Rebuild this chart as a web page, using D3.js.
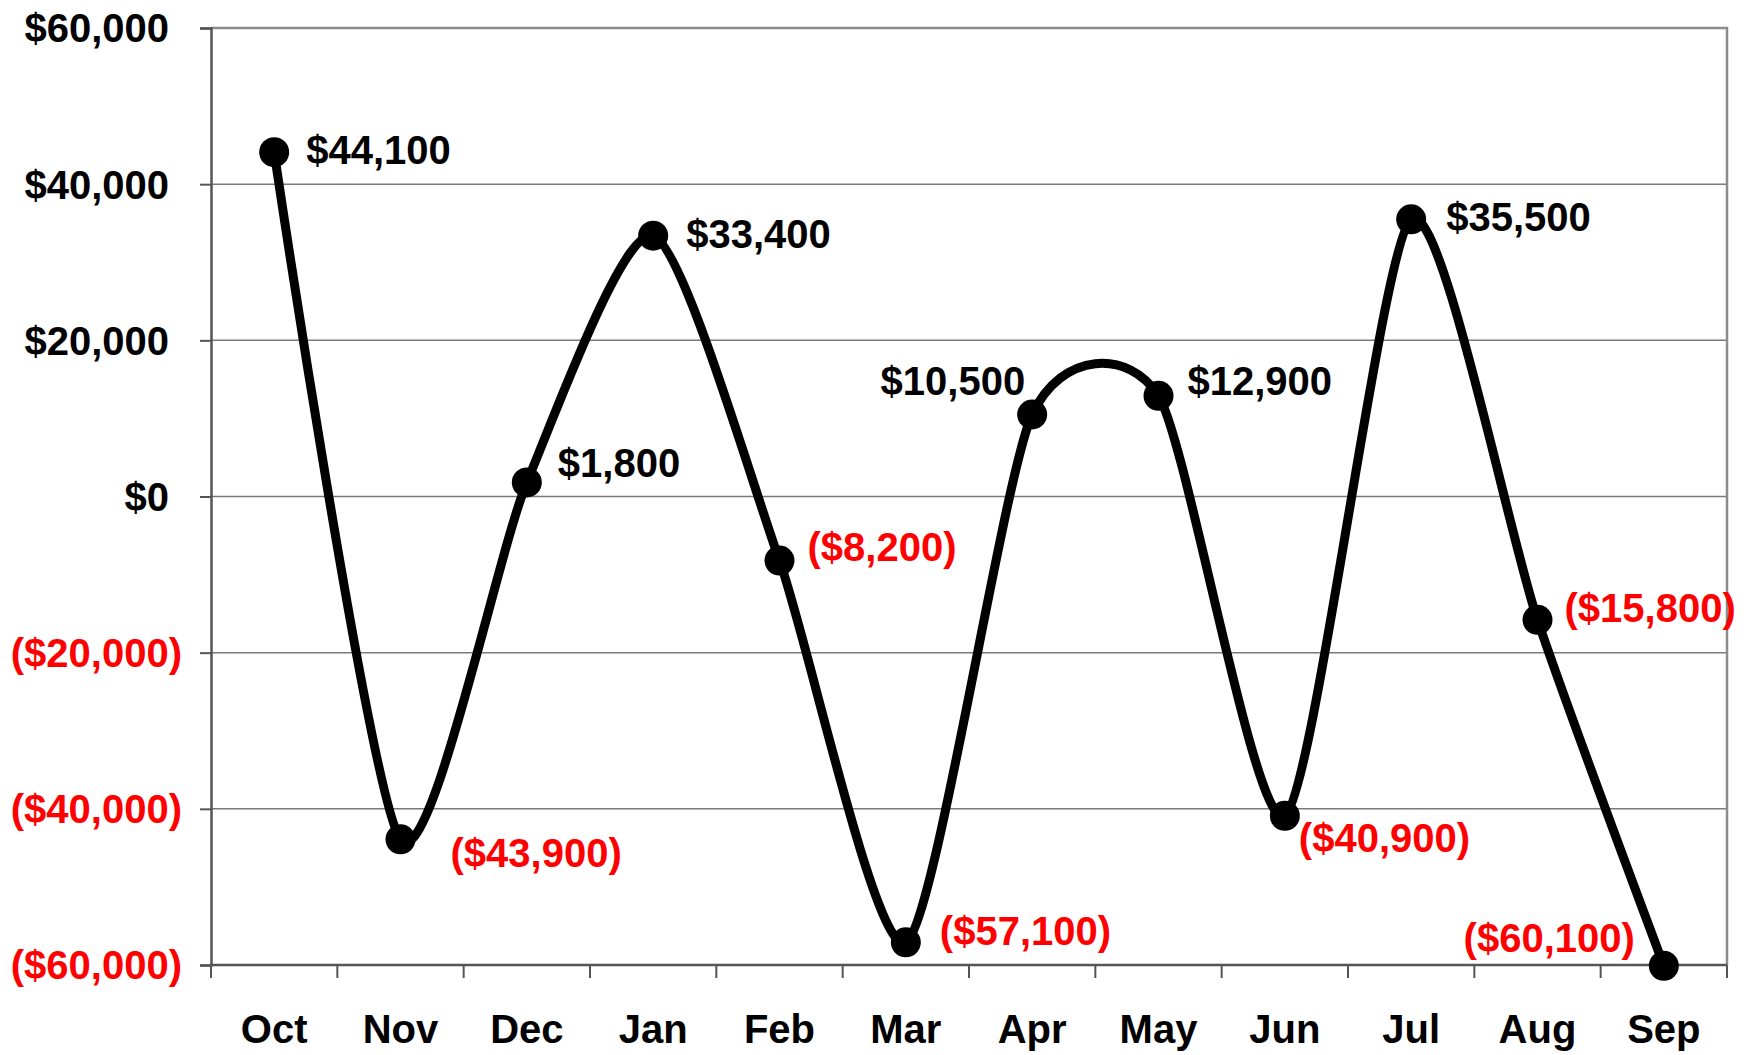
<!DOCTYPE html>
<html>
<head>
<meta charset="utf-8">
<script src="https://cdn.jsdelivr.net/npm/d3@7"></script>
<style>
  html, body { margin: 0; padding: 0; background: #fff; }
  svg text { font-family: "Liberation Sans", Arial, sans-serif; font-weight: bold; }
</style>
</head>
<body>
<div id="chart"></div>
<script>
// data
var months = ["Oct", "Nov", "Dec", "Jan", "Feb", "Mar", "Apr", "May", "Jun", "Jul", "Aug", "Sep"];
var values = [44100, -43900, 1800, 33400, -8200, -57100, 10500, 12900, -40900, 35500, -15800, -60100];
var yTicks = [-60000, -40000, -20000, 0, 20000, 40000, 60000];

// label nudges relative to each point (dx, dy, anchor)
var labelNudge = [
    [32, -3, "start"], [50, 13, "start"], [31, -20, "start"], [33, -2, "start"],
    [28, -14, "start"], [34, -12, "start"], [-7, -34, "end"], [29, -15, "start"],
    [14, 22, "start"], [35, -3, "start"], [27, -12, "start"], [-29, -28, "end"]
];

function init(){
    var w = 1744;
    var h = 1055;
    var left = 211, right = 1727, top = 28, bottom = 965;

    var svg = d3.select("#chart")
                .append("svg")
                .attr("width", w)
                .attr("height", h);

    var xScale = d3.scaleBand()
                    .domain(months)
                    .range([left, right])
                    .padding(0);

    var yScale = d3.scaleLinear()
                    .domain([-60000, 60000])
                    .range([bottom, top]);

    var money = function(v){
        var s = "$" + d3.format(",")(Math.abs(v));
        return v < 0 ? "(" + s + ")" : s;
    };

    // gridlines
    svg.selectAll("line.grid")
        .data(yTicks.filter(function(d){ return d > -60000 && d < 60000; }))
        .enter()
        .append("line")
        .attr("class", "grid")
        .attr("x1", left)
        .attr("x2", right)
        .attr("y1", function(d){ return yScale(d); })
        .attr("y2", function(d){ return yScale(d); })
        .attr("stroke", "#7a7a7a")
        .attr("stroke-width", 1.5);

    // top and right border
    svg.append("path")
        .attr("d", "M" + left + "," + top + "H" + right + "V" + bottom)
        .attr("fill", "none")
        .attr("stroke", "#8c8c8c")
        .attr("stroke-width", 2.5);

    // y axis
    var yAxis = svg.append("g")
        .attr("transform", "translate(" + left + ",0)")
        .call(d3.axisLeft(yScale).tickValues(yTicks).tickSize(11).tickFormat(""));
    yAxis.select(".domain").attr("stroke", "#555").attr("stroke-width", 2.5);
    yAxis.selectAll(".tick line").attr("stroke", "#555").attr("stroke-width", 2);

    svg.selectAll("text.ylab")
        .data(yTicks)
        .enter()
        .append("text")
        .attr("class", "ylab")
        .attr("x", function(d){ return d < 0 ? 182 : 169; })
        .attr("y", function(d){ return yScale(d); })
        .attr("dy", "0.36em")
        .attr("text-anchor", "end")
        .attr("font-size", "40px")
        .attr("fill", function(d){ return d < 0 ? "#ff0000" : "#000"; })
        .text(money);

    // x axis
    svg.append("line")
        .attr("x1", left).attr("x2", right)
        .attr("y1", bottom).attr("y2", bottom)
        .attr("stroke", "#555")
        .attr("stroke-width", 2.5);

    var edges = months.map(function(m){ return xScale(m); }).concat([right]);
    svg.selectAll("line.xtick")
        .data(edges)
        .enter()
        .append("line")
        .attr("class", "xtick")
        .attr("x1", function(d){ return d; })
        .attr("x2", function(d){ return d; })
        .attr("y1", bottom)
        .attr("y2", bottom + 13)
        .attr("stroke", "#555")
        .attr("stroke-width", 2);

    svg.selectAll("text.xlab")
        .data(months)
        .enter()
        .append("text")
        .attr("class", "xlab")
        .attr("x", function(d){ return xScale(d) + xScale.bandwidth() / 2; })
        .attr("y", 1043)
        .attr("text-anchor", "middle")
        .attr("font-size", "40px")
        .attr("fill", "#000")
        .text(function(d){ return d; });

    // the line
    var cx = function(d, i){ return xScale(months[i]) + xScale.bandwidth() / 2; };
    var line = d3.line()
        .x(cx)
        .y(function(d){ return yScale(d); })
        .curve(d3.curveCardinal.tension(0.3));

    svg.append("path")
        .datum(values)
        .attr("d", line)
        .attr("fill", "none")
        .attr("stroke", "#000")
        .attr("stroke-width", 9)
        .attr("stroke-linejoin", "round");

    svg.selectAll("circle.pt")
        .data(values)
        .enter()
        .append("circle")
        .attr("class", "pt")
        .attr("cx", cx)
        .attr("cy", function(d){ return yScale(d); })
        .attr("r", 15)
        .attr("fill", "#000");

    svg.selectAll("text.vlab")
        .data(values)
        .enter()
        .append("text")
        .attr("class", "vlab")
        .attr("x", function(d, i){ return cx(d, i) + labelNudge[i][0]; })
        .attr("y", function(d, i){ return yScale(d) + labelNudge[i][1]; })
        .attr("dy", "0.36em")
        .attr("text-anchor", function(d, i){ return labelNudge[i][2]; })
        .attr("font-size", "40px")
        .attr("fill", function(d){ return d < 0 ? "#ff0000" : "#000"; })
        .text(money);
}

window.onload = init;
</script>
</body>
</html>
